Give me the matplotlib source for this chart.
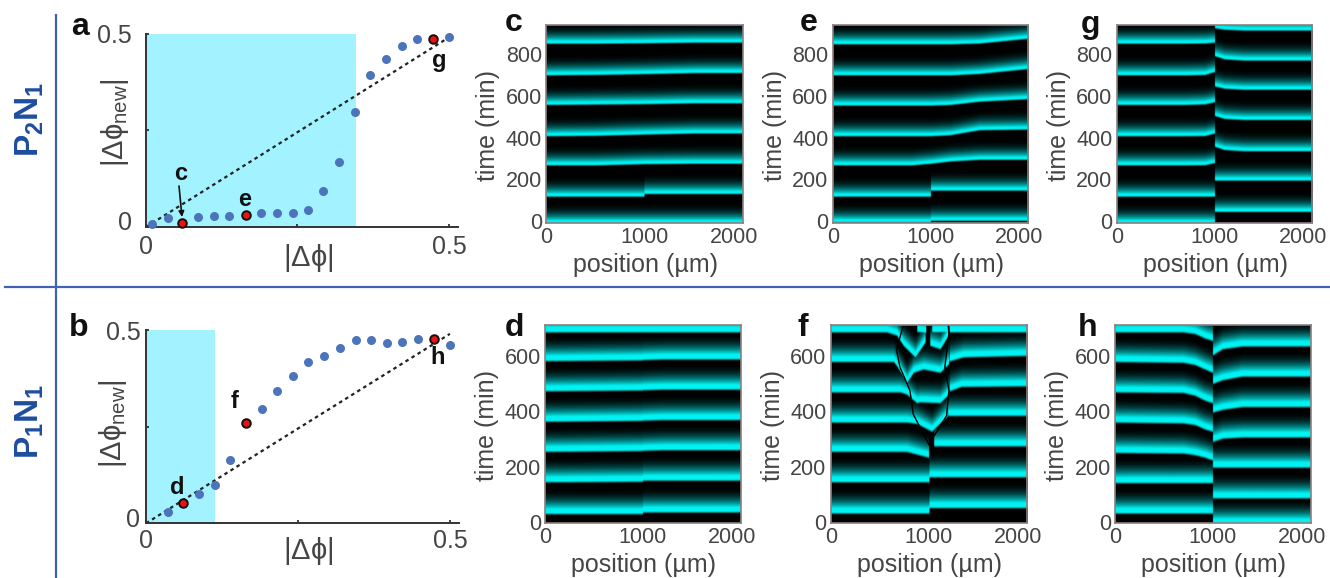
import numpy as np
import matplotlib
matplotlib.use('Agg')
import matplotlib.pyplot as plt
from matplotlib.colors import LinearSegmentedColormap
from matplotlib.lines import Line2D
from matplotlib.patches import FancyArrowPatch
from matplotlib.transforms import ScaledTranslation

plt.rcParams['font.family'] = ['Liberation Sans', 'DejaVu Sans']
plt.rcParams['mathtext.fontset'] = 'custom'
plt.rcParams['mathtext.rm'] = 'Liberation Sans'
plt.rcParams['mathtext.it'] = 'Liberation Sans:italic'
plt.rcParams['mathtext.bf'] = 'Liberation Sans:bold'

# phase maps, panels a and b
a_x = [.01, .036, .06, .086, .112, .137, .165, .19, .216, .242, .267, .292, .319, .345, .37, .396, .422, .447, .474, .5]
a_y = [.009, .023, .01, .026, .028, .028, .032, .035, .035, .035, .044, .092, .167, .296, .393, .435, .467, .487, .487, .49]
a_red = [2, 6, 18]
a_span = .346
b_x = [.036, .061, .087, .113, .138, .165, .191, .216, .242, .267, .293, .32, .346, .371, .396, .422, .448, .474, .5]
b_y = [.028, .053, .076, .1, .163, .26, .295, .343, .381, .416, .433, .453, .473, .473, .467, .47, .476, .476, .461]
b_red = [1, 5, 17]
b_span = .113
diag_x = [0, .5]
diag_y = [0, .49]

# time (min) of each bright band, one row per band, one column per position (um)
c_left_x = [0, 500, 999]
c_left = [[6, 6, 6], [134, 134, 134], [284, 284, 290], [424, 426, 432], [574, 576, 578], [716, 718, 722], [868, 868, 870]]
c_right_x = [1001, 1500, 2000]
c_right = [[6, 6, 6], [147, 147, 147], [290, 292, 292], [432, 437, 437], [578, 582, 582], [722, 727, 727], [870, 873, 873]]

e_left_x = [0, 800, 999]
e_left = [[10, 10, 10], [134, 134, 134], [284, 284, 292], [424, 424, 424], [571, 571, 571], [716, 716, 716], [865, 865, 865]]
e_right_x = [1001, 1200, 1500, 2000]
e_right = [[18, 18, 18, 18], [163, 163, 163, 163], [292, 303, 311, 311], [424, 429, 453, 456],
           [571, 574, 590, 602], [716, 716, 723, 747], [865, 865, 869, 892]]

g_left_x = [0, 700, 900, 999]
g_left = [[6, 6, 6, 6], [134, 134, 134, 134], [284, 284, 285, 295], [424, 424, 425, 437],
          [574, 574, 577, 587], [716, 716, 718, 732], [868, 868, 869, 873]]
g_right_x = [1001, 1100, 1300, 2000]
g_right = [[61, 61, 61, 61], [211, 211, 211, 211], [373, 358, 352, 352], [521, 507, 502, 502],
           [663, 652, 647, 647], [808, 793, 787, 787], [942, 935, 931, 931]]

d_left_x = [0, 999]
d_left = [[43, 43], [158, 160], [268, 271], [377, 380], [487, 490], [596, 599], [700, 700]]
d_right_x = [1001, 1200, 2000]
d_right = [[49, 49, 49], [164, 164, 164], [272, 274, 274], [381, 383, 383], [491, 493, 493], [600, 602, 602], [700, 700, 700]]

h_left_x = [0, 700, 820, 920, 999]
h_left = [[45, 45, 45, 45, 45], [155, 155, 155, 155, 155], [264, 262, 256, 247, 237], [374, 371, 365, 349, 341],
          [483, 481, 471, 453, 444], [593, 590, 582, 566, 554], [700, 700, 694, 678, 669]]
h_right_x = [1001, 1100, 1300, 2000]
h_right = [[6, 6, 6, 6], [100, 100, 100, 100], [211, 211, 211, 211], [304, 316, 320, 320],
           [410, 420, 430, 430], [514, 527, 540, 540], [617, 639, 649, 649]]

# panel f, bands as separate pieces (x list, time list)
f_bands = [
    ([0, 999], [45, 45]),
    ([0, 999], [158, 158]),
    ([0, 770, 900, 995], [268, 268, 256, 247]),
    ([0, 773, 875, 1027, 1146, 1185], [374, 374, 369, 341, 383, 395]),
    ([0, 705, 773, 875, 908, 1112, 1163, 1200], [483, 483, 475, 444, 447, 444, 462, 475]),
    ([0, 637, 671, 773], [593, 593, 578, 517]),
    ([773, 841, 942, 1112, 1163, 1200], [517, 554, 566, 554, 572, 585]),
    ([0, 570, 671, 739], [700, 700, 688, 651]),
    ([739, 858, 959], [651, 609, 663]),
    ([1010, 1112, 1197], [651, 639, 688]),
    ([875, 966], [702, 697]),
    ([1027, 1197], [700, 700]),
    ([1001, 2000], [65, 65]),
    ([1001, 2000], [176, 176]),
    ([1050, 2000], [288, 288]),
    ([1190, 2000], [398, 398]),
    ([1205, 1330, 2000], [487, 503, 505]),
    ([1205, 1350, 2000], [595, 610, 615]),
    ([1205, 2000], [700, 700]),
]
f_seam1_x = [1000, 841, 807, 705, 671, 739]
f_seam1_t = [286, 395, 481, 566, 627, 718]
f_seam2_x = [1000, 1180, 1205, 1163, 1205, 1197]
f_seam2_t = [286, 389, 481, 566, 688, 718]
f_seam3_x = [983, 983]
f_seam3_t = [670, 718]

top_ticks = [0, 200, 400, 600, 800]
bot_ticks = [0, 200, 400, 600]
pos_ticks = [0, 1000, 2000]

W, H = 1330, 578
fig = plt.figure(figsize=(W / 100, H / 100), dpi=100)
cyan_map = LinearSegmentedColormap.from_list('cy', ['#000000', '#00f2f2'])
grey = '#454545'
blue = '#3f62b2'


def box(x0, y0, x1, y1):
    return fig.add_axes([x0 / W, 1 - y1 / H, (x1 - x0) / W, (y1 - y0) / H])


def label(x, y, s, **kw):
    kw.setdefault('ha', 'center')
    kw.setdefault('va', 'center')
    fig.text(x / W, 1 - y / H, s, **kw)


def table_bands(xs, rows):
    return [(xs, r) for r in rows]


def stripe(dt, hold, fade, power):
    out = np.zeros_like(dt)
    up = dt + hold / 2
    rise = (up > -9) & (up <= 0)
    out[rise] = 1 + up[rise] / 9
    out[(up > 0) & (up <= hold)] = 1
    tail = (up > hold) & (up < hold + fade)
    out[tail] = (1 - (up[tail] - hold) / fade) ** power
    return out


def draw_map(box_px, bands, tmax, ticks, hold, fade, power, lift):
    ax = box(*box_px)
    xx = np.linspace(0, 2000, 500)
    tt = np.linspace(0, tmax, 500)
    img = np.zeros((tt.size, xx.size))
    for xs, ts in bands:
        crest = np.interp(xx, xs, ts, left=np.nan, right=np.nan)
        ok = ~np.isnan(crest)
        dt = tt[:, None] - crest[ok][None, :]
        img[:, ok] = np.maximum(img[:, ok], stripe(dt, hold, fade, power))
    ax.imshow(img, cmap=cyan_map, vmin=0, vmax=1, origin='lower', aspect='auto',
              extent=[0, 2000, 0, tmax], interpolation='bilinear')
    ax.set_xticks(pos_ticks)
    ax.set_yticks(ticks)
    ax.tick_params(length=0, labelsize=15.5, labelcolor=grey, pad=3)
    for s in ax.spines.values():
        s.set_color('#8c8080')
        s.set_linewidth(1.2)
    shift = ScaledTranslation(-9 / 100, 0, fig.dpi_scale_trans)
    last = ax.get_xticklabels()[-1]
    last.set_transform(last.get_transform() + shift)
    up = ScaledTranslation(0, lift / 100, fig.dpi_scale_trans)
    for t in ax.get_yticklabels():
        t.set_transform(t.get_transform() + up)
    x0, y0, x1, y1 = box_px
    label(x0 - 58, (y0 + y1) / 2 + 1, 'time (min)', fontsize=18, color=grey, rotation=90)
    label((x0 + x1) / 2 + 1, y1 + 42, 'position (\u00b5m)', fontsize=18, color=grey)
    return ax


def draw_phase(box_px, xs, ys, red, span, ypad, xpad):
    ax = box(*box_px)
    ax.axvspan(0, span, ymin=0, ymax=1, color='#a2f3ff', lw=0, zorder=0)
    ax.plot(diag_x, diag_y, color='#222222', lw=1.6, ls=(0, (1.6, 1.6)), zorder=2)
    ax.scatter(xs, ys, s=42, color='#4c74ba', lw=0, zorder=3, clip_on=False)
    ax.scatter(np.array(xs)[red], np.array(ys)[red], s=38, color='#f01010', edgecolor='#111111',
               lw=1.4, zorder=4, clip_on=False)
    ax.set_xlim(0, .515)
    ax.set_ylim(0, .5)
    ax.set_xticks([0, .25, .5], ['0', '', '0.5'])
    ax.set_yticks([0, .25, .5], ['0', '', '0.5'])
    ax.tick_params(direction='in', length=2, width=1.2, labelsize=18, labelcolor=grey, color='#222222')
    ax.tick_params(axis='x', pad=xpad)
    ax.tick_params(axis='y', pad=ypad)
    # the zero of the y axis sits a little above its tick
    zero = ax.get_yticklabels()[0]
    zero.set_transform(zero.get_transform() + ScaledTranslation(0, 6 / 100, fig.dpi_scale_trans))
    ax.patch.set_alpha(0)
    ax.spines['top'].set_visible(False)
    ax.spines['right'].set_visible(False)
    ax.spines['left'].set_color('#333333')
    ax.spines['bottom'].set_color('#333333')
    ax.spines['left'].set_linewidth(1.4)
    ax.spines['bottom'].set_linewidth(1.4)
    return ax


fig.add_artist(Line2D([56 / W, 56 / W], [0, 1 - 15 / H], color=blue, lw=1.6))
fig.add_artist(Line2D([5 / W, 1], [1 - 287 / H, 1 - 287 / H], color=blue, lw=1.6))

label(30, 119, r'$\mathbf{P_2N_1}$', fontsize=24, color='#1f4d9e', rotation=90)
label(30, 421, r'$\mathbf{P_1N_1}$', fontsize=24, color='#1f4d9e', rotation=90)

draw_phase((146, 33.5, 458, 227), a_x, a_y, a_red, a_span, 10, 6)
draw_phase((146, 330, 459, 523.3), b_x, b_y, b_red, b_span, 4, 4)

phi_new = r'$|\Delta\mathrm{\phi}_{\mathrm{new}}|$'
phi = r'$|\Delta\mathrm{\phi}|$'
label(115, 123, phi_new, fontsize=21, color=grey, rotation=90)
label(113, 424, phi_new, fontsize=21, color=grey, rotation=90)
label(308, 258, phi, fontsize=21, color=grey)
label(308, 551, phi, fontsize=21, color=grey)

fig.add_artist(FancyArrowPatch((179 / W, 1 - 186 / H), (182 / W, 1 - 217 / H),
                               transform=fig.transFigure, arrowstyle='-|>',
                               mutation_scale=8, lw=1.2, color='#111111', shrinkA=0, shrinkB=0))

# panel letters
for x, y, s in [(80, 27, 'a'), (79, 328, 'b'), (514, 23, 'c'), (809, 23, 'e'), (1091, 25, 'g'),
                (514, 328, 'd'), (803, 328, 'f'), (1088, 328, 'h')]:
    label(x, y, s, fontsize=23, fontweight='bold', color='#111111')
for x, y, s in [(181, 174, 'c'), (245, 200, 'e'), (439, 60, 'g'), (235, 402, 'f'), (177, 487, 'd'), (438, 358, 'h')]:
    label(x, y, s, fontsize=17, fontweight='bold', color='#111111')

draw_map((546, 25, 742.7, 223.3), table_bands(c_left_x, c_left) + table_bands(c_right_x, c_right), 953, top_ticks, 8, 95, 2.6, 2.5)
draw_map((832.7, 25, 1028, 223.3), table_bands(e_left_x, e_left) + table_bands(e_right_x, e_right), 953, top_ticks, 8, 95, 2.6, 2.5)
draw_map((1116.7, 25, 1312, 223.3), table_bands(g_left_x, g_left) + table_bands(g_right_x, g_right), 953, top_ticks, 8, 95, 2.6, 2.5)
draw_map((545, 325, 740.7, 523.3), table_bands(d_left_x, d_left) + table_bands(d_right_x, d_right), 718, bot_ticks, 14, 76, 2.1, 1.5)
draw_map((1115, 325, 1310.7, 523.3), table_bands(h_left_x, h_left) + table_bands(h_right_x, h_right), 718, bot_ticks, 14, 76, 2.1, 1.5)
ax_f = draw_map((830.7, 325, 1027, 523.3), f_bands, 718, bot_ticks, 14, 76, 2.1, 1.5)
for sx, st in [(f_seam1_x, f_seam1_t), (f_seam2_x, f_seam2_t), (f_seam3_x, f_seam3_t)]:
    ax_f.plot(sx, st, color='black', lw=1.0)
ax_f.set_xlim(0, 2000)
ax_f.set_ylim(0, 718)

fig.savefig('out.png', dpi=100)
